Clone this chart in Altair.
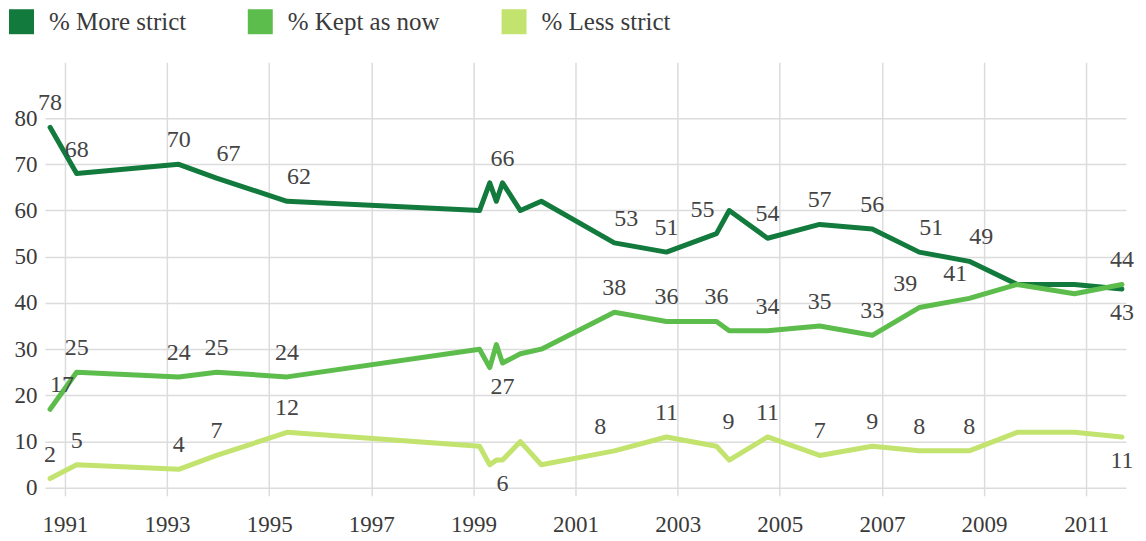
import altair as alt
import pandas as pd

# Survey dates (fractional years)
dates = [1990.71, 1991.23, 1993.23, 1993.97, 1995.35,
         1999.12, 1999.32, 1999.45, 1999.57, 1999.92, 2000.33,
         2001.76, 2002.78, 2003.76, 2004.01, 2004.76, 2005.78,
         2006.81, 2007.73, 2008.71, 2009.65, 2010.77, 2011.70]

more_strict = [78, 68, 70, 67, 62, 60, 66, 62, 66, 60, 62,
               53, 51, 55, 60, 54, 57, 56, 51, 49, 44, 44, 43]
kept_as_now = [17, 25, 24, 25, 24, 30, 26, 31, 27, 29, 30,
               38, 36, 36, 34, 34, 35, 33, 39, 41, 44, 42, 44]
less_strict = [2, 5, 4, 7, 12, 9, 5, 6, 6, 10, 5,
               8, 11, 9, 6, 11, 7, 9, 8, 8, 12, 12, 11]

# Which points carry a value label, and on which side
# a = above, ar = above-right, al = above-left, b = below, "" = none
more_lab = ["a", "a", "a", "ar", "ar", "", "", "", "a", "", "",
            "ar", "a", "al", "", "a", "a", "a", "ar", "ar", "", "", "b"]
kept_lab = ["ar", "a", "a", "a", "a", "", "", "", "b", "", "",
            "a", "a", "a", "", "a", "a", "a", "al", "al", "", "", "a"]
less_lab = ["a", "a", "a", "a", "a", "", "", "", "b", "", "",
            "al", "a", "ar", "", "a", "a", "a", "a", "a", "", "", "b"]

series_names = ["% More strict", "% Kept as now", "% Less strict"]
colors = ["#137a3d", "#5dbd4c", "#c3e36f"]

rows = []
for name, vals, labs in zip(series_names,
                            [more_strict, kept_as_now, less_strict],
                            [more_lab, kept_lab, less_lab]):
    for i, (d, v, p) in enumerate(zip(dates, vals, labs)):
        rows.append({"date": d, "value": v, "series": name, "pos": p, "idx": i})
df = pd.DataFrame(rows)

FONT = "'Liberation Serif', 'Times New Roman', Times, serif"
TXT = "#444444"

x_enc = alt.X("date:Q",
              scale=alt.Scale(domain=[1990.61, 2011.78], nice=False, zero=False),
              axis=alt.Axis(values=list(range(1991, 2012, 2)), format="d", title=None,
                            grid=True, gridColor="#dcdcdc", gridWidth=1.5,
                            domain=False, ticks=True, tickColor="#dcdcdc", tickWidth=1.5,
                            tickSize=8, labelPadding=18, labelFont=FONT, labelFontSize=23,
                            labelColor="#3a3a3a"))
y_enc = alt.Y("value:Q",
              scale=alt.Scale(domain=[0, 92.1], nice=False),
              axis=alt.Axis(values=list(range(0, 81, 10)), title=None,
                            grid=True, gridColor="#dcdcdc", gridWidth=1.5,
                            domain=False, ticks=False, labelPadding=8,
                            labelFont=FONT, labelFontSize=23, labelColor="#3a3a3a"))
color_enc = alt.Color("series:N",
                      scale=alt.Scale(domain=series_names, range=colors),
                      sort=series_names,
                      legend=alt.Legend(title=None, orient="none", direction="horizontal",
                                        legendX=-36, legendY=-53,
                                        symbolType="square", symbolSize=121,
                                        symbolStrokeWidth=14, symbolOpacity=1,
                                        labelFont=FONT, labelFontSize=25,
                                        labelColor="#3a3a3a", labelOffset=15,
                                        columnPadding=40))

base = alt.Chart(df)

lines = base.mark_line(strokeWidth=5, strokeJoin="round", strokeCap="round").encode(
    x=x_enc, y=y_enc, color=color_enc, order="idx:Q"
)

offsets = {"a": (0, -24), "ar": (12, -24), "al": (-14, -24), "b": (0, 24)}
text_layers = []
for code, (ddx, ddy) in offsets.items():
    text_layers.append(
        base.transform_filter(alt.datum.pos == code)
        .mark_text(dx=ddx, dy=ddy, font=FONT, fontSize=24, color=TXT,
                   align="center", baseline="middle")
        .encode(x="date:Q", y="value:Q", text="value:Q")
    )

chart = alt.layer(lines, *text_layers).properties(
    width=1082, height=426,
    autosize=alt.AutoSizeParams(type="none"),
    padding={"left": 37, "top": 54, "right": 12, "bottom": 56},
    background="white",
).configure_view(strokeWidth=0)

chart.save("out.html", embed_options={"renderer": "svg", "actions": False})
